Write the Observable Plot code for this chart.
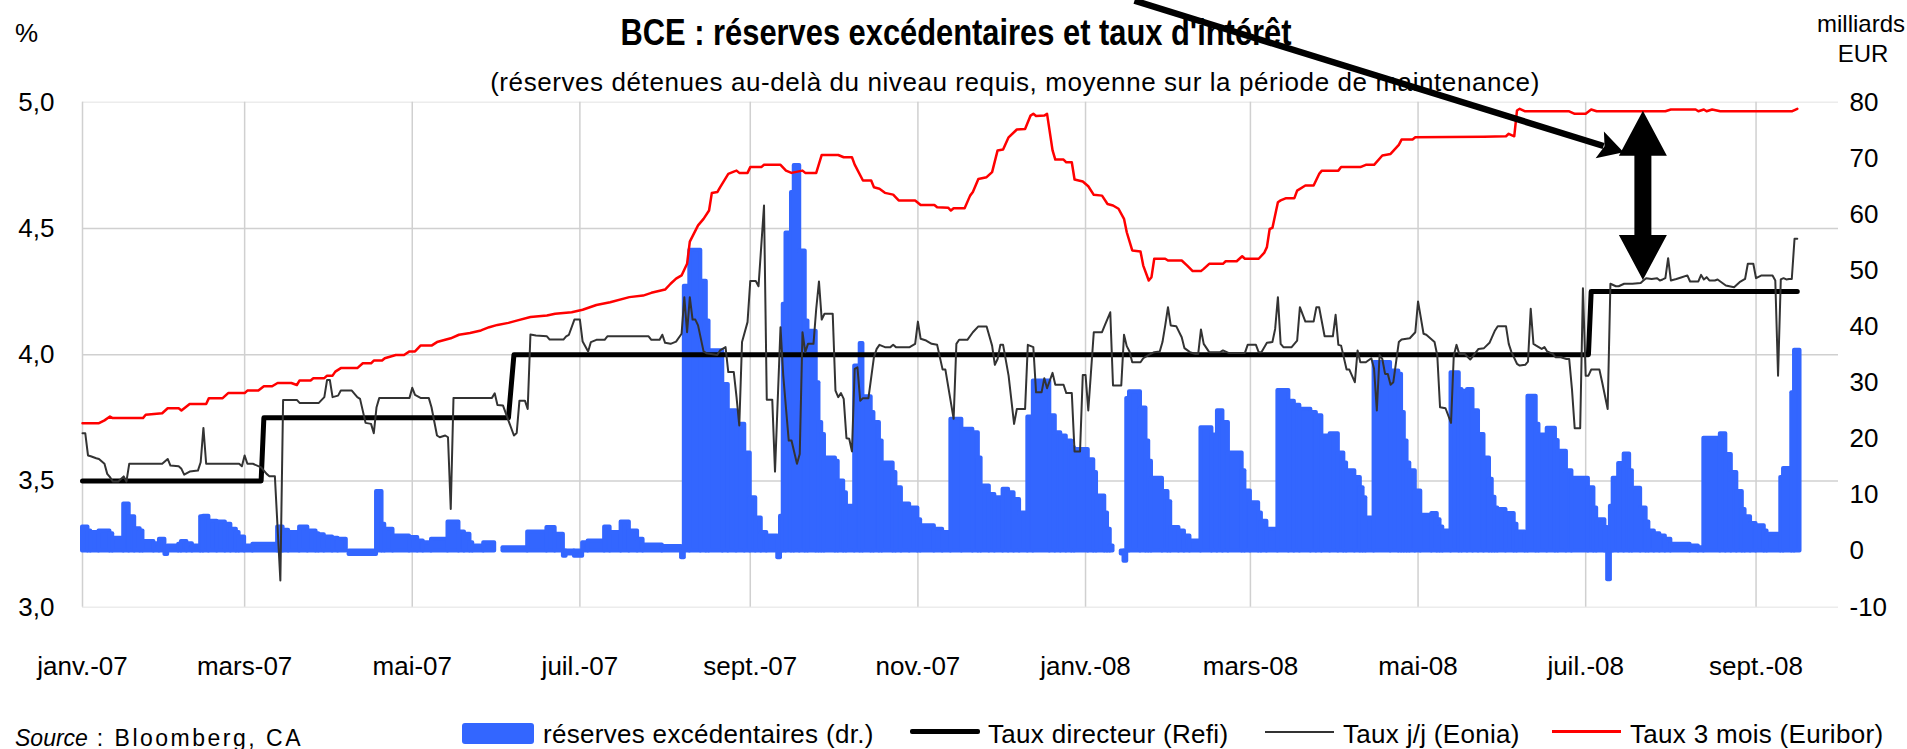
<!DOCTYPE html>
<html><head><meta charset="utf-8">
<script src="https://cdn.jsdelivr.net/npm/d3@7"></script>
<script src="https://cdn.jsdelivr.net/npm/@observablehq/plot@0.6"></script>
<style>
html,body{margin:0;padding:0;background:#fff;}
#wrap{position:relative;width:1907px;height:749px;overflow:hidden;font-family:"Liberation Sans",Arial,sans-serif;color:#000;background:#fff;}
#chart{position:absolute;left:0;top:0;}
.lbl{position:absolute;white-space:nowrap;line-height:1;}
.c{transform:translateX(-50%);}
.lg{font-size:26px;letter-spacing:0.3px;}
</style></head><body>
<div id="wrap">
  <div id="chart"></div>
  <div class="lbl" style="left:956px;top:14.5px;font-size:36px;font-weight:bold;transform:translateX(-50%) scaleX(0.857);">BCE : réserves excédentaires et taux d'intérêt</div>
  <div class="lbl c" style="left:1015px;top:69px;font-size:26px;letter-spacing:0.58px;">(réserves détenues au-delà du niveau requis, moyenne sur la période de maintenance)</div>
  <div class="lbl" style="left:15px;top:20px;font-size:26px;">%</div>
  <div class="lbl c" style="left:1861px;top:11.7px;font-size:24px;">milliards</div>
  <div class="lbl c" style="left:1863px;top:41.7px;font-size:24px;">EUR</div>
  <div class="lbl" style="left:15px;top:726.5px;font-size:23px;"><i>Source</i><span style="letter-spacing:2.5px;"> : Bloomberg, CA</span></div>
  <div class="lbl" style="left:462px;top:723px;width:72px;height:21px;background:#3366ff;border-radius:3px;"></div>
  <div class="lbl lg" style="left:543px;top:721px;">réserves excédentaires (dr.)</div>
  <div class="lbl" style="left:910px;top:729px;width:70px;height:5px;background:#000;border-radius:2px;"></div>
  <div class="lbl lg" style="left:988px;top:721px;">Taux directeur (Refi)</div>
  <div class="lbl" style="left:1265px;top:730.5px;width:69px;height:2px;background:#333;"></div>
  <div class="lbl lg" style="left:1343px;top:721px;">Taux j/j (Eonia)</div>
  <div class="lbl" style="left:1552px;top:730px;width:69px;height:3px;background:#f00;"></div>
  <div class="lbl lg" style="left:1630px;top:721px;">Taux 3 mois (Euribor)</div>
</div>
<script>
// ---- Data ----
const xTickDates = ["2007-01-01","2007-03-01","2007-05-01","2007-07-01","2007-09-01","2007-11-01","2008-01-01","2008-03-01","2008-05-01","2008-07-01","2008-09-01"];
const xTickLabels = ["janv.-07","mars-07","mai-07","juil.-07","sept.-07","nov.-07","janv.-08","mars-08","mai-08","juil.-08","sept.-08"];
const leftTicks = [3, 3.5, 4, 4.5, 5];
const rightTicks = [-10, 0, 10, 20, 30, 40, 50, 60, 70, 80];

// Taux directeur (Refi), %
const refi = [["2007-01-01",3.5],["2007-03-07",3.5],["2007-03-08",3.75],["2007-06-05",3.75],["2007-06-07",4.0],["2008-07-02",4.0],["2008-07-03",4.25],["2008-09-16",4.25]];

// Taux 3 mois (Euribor), %
const euribor = [["2007-01-01",3.729],["2007-01-07",3.729],["2007-01-09",3.740],["2007-01-11",3.755],["2007-01-12",3.749],["2007-01-23",3.749],["2007-01-24",3.762],["2007-01-30",3.768],["2007-02-01",3.788],["2007-02-05",3.788],["2007-02-06",3.779],["2007-02-09",3.805],["2007-02-15",3.805],["2007-02-16",3.828],["2007-02-21",3.828],["2007-02-23",3.848],["2007-03-01",3.848],["2007-03-02",3.858],["2007-03-06",3.858],["2007-03-08",3.875],["2007-03-11",3.875],["2007-03-13",3.888],["2007-03-18",3.888],["2007-03-20",3.880],["2007-03-21",3.898],["2007-03-25",3.898],["2007-03-26",3.907],["2007-03-30",3.907],["2007-03-31",3.917],["2007-04-02",3.917],["2007-04-03",3.933],["2007-04-05",3.947],["2007-04-11",3.947],["2007-04-13",3.966],["2007-04-16",3.966],["2007-04-17",3.977],["2007-04-20",3.977],["2007-04-21",3.986],["2007-04-25",3.999],["2007-04-28",3.999],["2007-04-30",4.013],["2007-05-02",4.013],["2007-05-04",4.036],["2007-05-08",4.036],["2007-05-10",4.050],["2007-05-15",4.065],["2007-05-18",4.079],["2007-05-22",4.086],["2007-05-26",4.096],["2007-05-29",4.109],["2007-06-01",4.118],["2007-06-05",4.126],["2007-06-08",4.135],["2007-06-13",4.149],["2007-06-19",4.155],["2007-06-22",4.162],["2007-06-28",4.168],["2007-07-02",4.178],["2007-07-07",4.197],["2007-07-12",4.208],["2007-07-19",4.228],["2007-07-24",4.234],["2007-07-27",4.245],["2007-08-01",4.258],["2007-08-03",4.281],["2007-08-05",4.301],["2007-08-07",4.314],["2007-08-09",4.360],["2007-08-10",4.448],["2007-08-13",4.512],["2007-08-15",4.538],["2007-08-17",4.571],["2007-08-18",4.640],["2007-08-20",4.644],["2007-08-21",4.663],["2007-08-24",4.716],["2007-08-26",4.725],["2007-08-27",4.729],["2007-08-28",4.720],["2007-08-31",4.720],["2007-09-01",4.743],["2007-09-05",4.743],["2007-09-06",4.752],["2007-09-12",4.752],["2007-09-14",4.729],["2007-09-16",4.720],["2007-09-20",4.729],["2007-09-21",4.720],["2007-09-25",4.720],["2007-09-27",4.791],["2007-10-03",4.791],["2007-10-05",4.782],["2007-10-08",4.782],["2007-10-09",4.753],["2007-10-12",4.690],["2007-10-15",4.690],["2007-10-16",4.663],["2007-10-18",4.657],["2007-10-20",4.641],["2007-10-23",4.634],["2007-10-25",4.611],["2007-10-31",4.611],["2007-11-02",4.593],["2007-11-07",4.593],["2007-11-08",4.584],["2007-11-12",4.582],["2007-11-13",4.571],["2007-11-14",4.580],["2007-11-18",4.580],["2007-11-20",4.630],["2007-11-21",4.644],["2007-11-23",4.696],["2007-11-26",4.703],["2007-11-28",4.723],["2007-11-30",4.809],["2007-12-02",4.813],["2007-12-04",4.861],["2007-12-07",4.892],["2007-12-10",4.894],["2007-12-12",4.947],["2007-12-13",4.954],["2007-12-14",4.945],["2007-12-17",4.947],["2007-12-18",4.954],["2007-12-20",4.809],["2007-12-21",4.773],["2007-12-24",4.773],["2007-12-25",4.762],["2007-12-27",4.762],["2007-12-28",4.694],["2007-12-31",4.686],["2008-01-02",4.667],["2008-01-04",4.633],["2008-01-07",4.630],["2008-01-09",4.597],["2008-01-11",4.591],["2008-01-13",4.578],["2008-01-15",4.538],["2008-01-16",4.485],["2008-01-18",4.413],["2008-01-21",4.409],["2008-01-22",4.353],["2008-01-24",4.294],["2008-01-25",4.307],["2008-01-26",4.380],["2008-01-30",4.380],["2008-01-31",4.373],["2008-02-05",4.373],["2008-02-07",4.353],["2008-02-09",4.331],["2008-02-12",4.331],["2008-02-13",4.340],["2008-02-15",4.360],["2008-02-20",4.360],["2008-02-21",4.370],["2008-02-25",4.370],["2008-02-26",4.380],["2008-02-27",4.390],["2008-02-28",4.380],["2008-03-04",4.380],["2008-03-06",4.403],["2008-03-07",4.426],["2008-03-08",4.498],["2008-03-09",4.502],["2008-03-11",4.604],["2008-03-12",4.611],["2008-03-14",4.620],["2008-03-17",4.620],["2008-03-18",4.650],["2008-03-21",4.670],["2008-03-24",4.670],["2008-03-26",4.716],["2008-03-27",4.729],["2008-04-02",4.729],["2008-04-03",4.743],["2008-04-10",4.743],["2008-04-12",4.752],["2008-04-15",4.752],["2008-04-18",4.789],["2008-04-21",4.795],["2008-04-24",4.831],["2008-04-25",4.852],["2008-04-29",4.852],["2008-04-30",4.861],["2008-05-25",4.863],["2008-06-02",4.865],["2008-06-03",4.875],["2008-06-05",4.865],["2008-06-06",4.967],["2008-06-07",4.974],["2008-06-09",4.964],["2008-06-25",4.964],["2008-06-27",4.954],["2008-07-01",4.954],["2008-07-03",4.971],["2008-07-05",4.964],["2008-07-30",4.964],["2008-08-01",4.971],["2008-08-10",4.971],["2008-08-11",4.964],["2008-08-13",4.971],["2008-08-14",4.964],["2008-08-16",4.971],["2008-08-19",4.964],["2008-09-14",4.964],["2008-09-16",4.974]];

// Taux j/j (Eonia), %
const eonia = [["2007-01-01",3.689],["2007-01-02",3.689],["2007-01-03",3.601],["2007-01-04",3.598],["2007-01-06",3.590],["2007-01-07",3.587],["2007-01-09",3.568],["2007-01-10",3.528],["2007-01-11",3.515],["2007-01-12",3.498],["2007-01-14",3.498],["2007-01-16",3.518],["2007-01-17",3.498],["2007-01-18",3.568],["2007-01-30",3.568],["2007-02-01",3.587],["2007-02-02",3.561],["2007-02-05",3.558],["2007-02-06",3.548],["2007-02-07",3.525],["2007-02-09",3.537],["2007-02-12",3.541],["2007-02-13",3.574],["2007-02-14",3.710],["2007-02-15",3.568],["2007-02-27",3.568],["2007-02-28",3.558],["2007-03-01",3.601],["2007-03-02",3.568],["2007-03-04",3.568],["2007-03-07",3.554],["2007-03-09",3.528],["2007-03-10",3.519],["2007-03-12",3.519],["2007-03-14",3.106],["2007-03-15",3.821],["2007-03-20",3.821],["2007-03-21",3.809],["2007-03-28",3.809],["2007-03-30",3.832],["2007-03-31",3.900],["2007-04-01",3.900],["2007-04-02",3.832],["2007-04-04",3.838],["2007-04-05",3.858],["2007-04-09",3.858],["2007-04-11",3.832],["2007-04-12",3.825],["2007-04-14",3.730],["2007-04-16",3.726],["2007-04-17",3.689],["2007-04-18",3.792],["2007-04-19",3.829],["2007-04-30",3.829],["2007-05-01",3.869],["2007-05-02",3.841],["2007-05-04",3.829],["2007-05-07",3.829],["2007-05-08",3.792],["2007-05-10",3.680],["2007-05-11",3.673],["2007-05-13",3.680],["2007-05-14",3.673],["2007-05-15",3.389],["2007-05-16",3.829],["2007-05-30",3.829],["2007-05-31",3.847],["2007-06-01",3.801],["2007-06-03",3.799],["2007-06-05",3.739],["2007-06-07",3.680],["2007-06-08",3.690],["2007-06-09",3.818],["2007-06-11",3.818],["2007-06-12",3.785],["2007-06-13",4.080],["2007-06-15",4.076],["2007-06-19",4.073],["2007-06-20",4.060],["2007-06-25",4.060],["2007-06-26",4.073],["2007-06-27",4.079],["2007-06-29",4.139],["2007-07-01",4.139],["2007-07-02",4.052],["2007-07-04",4.013],["2007-07-05",4.050],["2007-07-07",4.059],["2007-07-10",4.059],["2007-07-11",4.073],["2007-07-26",4.073],["2007-07-27",4.059],["2007-07-30",4.059],["2007-07-31",4.079],["2007-08-01",4.047],["2007-08-03",4.043],["2007-08-05",4.052],["2007-08-07",4.083],["2007-08-08",4.228],["2007-08-09",4.089],["2007-08-10",4.228],["2007-08-11",4.139],["2007-08-12",4.139],["2007-08-13",4.116],["2007-08-15",4.013],["2007-08-16",4.006],["2007-08-20",3.999],["2007-08-21",4.017],["2007-08-23",4.030],["2007-08-24",3.931],["2007-08-26",3.931],["2007-08-27",3.832],["2007-08-28",3.720],["2007-08-29",4.050],["2007-08-31",4.129],["2007-09-01",4.292],["2007-09-03",4.292],["2007-09-04",4.271],["2007-09-06",4.591],["2007-09-07",3.822],["2007-09-09",3.822],["2007-09-10",3.537],["2007-09-12",4.109],["2007-09-13",3.917],["2007-09-15",3.660],["2007-09-16",3.660],["2007-09-18",3.568],["2007-09-19",3.607],["2007-09-20",4.089],["2007-09-21",4.010],["2007-09-22",4.043],["2007-09-24",4.043],["2007-09-25",4.182],["2007-09-26",4.290],["2007-09-27",4.139],["2007-09-28",4.162],["2007-10-01",4.162],["2007-10-02",3.858],["2007-10-03",3.832],["2007-10-04",3.848],["2007-10-05",3.825],["2007-10-06",3.669],["2007-10-07",3.667],["2007-10-08",3.617],["2007-10-09",3.944],["2007-10-10",3.950],["2007-10-11",3.818],["2007-10-12",3.828],["2007-10-14",3.828],["2007-10-16",3.990],["2007-10-17",4.023],["2007-10-18",4.039],["2007-10-20",4.030],["2007-10-22",4.030],["2007-10-23",4.039],["2007-10-24",4.030],["2007-10-29",4.030],["2007-10-31",4.043],["2007-11-01",4.131],["2007-11-02",4.063],["2007-11-04",4.056],["2007-11-06",4.043],["2007-11-08",4.039],["2007-11-10",3.941],["2007-11-11",3.941],["2007-11-14",3.746],["2007-11-15",4.043],["2007-11-16",4.059],["2007-11-19",4.059],["2007-11-21",4.089],["2007-11-23",4.112],["2007-11-26",4.112],["2007-11-28",4.036],["2007-11-29",3.960],["2007-11-30",3.983],["2007-12-01",4.039],["2007-12-02",4.039],["2007-12-04",3.917],["2007-12-06",3.726],["2007-12-07",3.785],["2007-12-10",3.785],["2007-12-11",4.039],["2007-12-13",4.030],["2007-12-14",3.851],["2007-12-16",3.851],["2007-12-17",3.907],["2007-12-18",3.867],["2007-12-20",3.928],["2007-12-21",3.881],["2007-12-24",3.881],["2007-12-25",3.848],["2007-12-27",3.848],["2007-12-28",3.617],["2007-12-30",3.617],["2007-12-31",3.920],["2008-01-01",3.920],["2008-01-02",3.779],["2008-01-04",4.089],["2008-01-07",4.089],["2008-01-08",4.116],["2008-01-10",4.168],["2008-01-11",3.878],["2008-01-14",3.878],["2008-01-15",4.079],["2008-01-16",4.034],["2008-01-17",4.013],["2008-01-18",3.970],["2008-01-21",3.970],["2008-01-22",3.986],["2008-01-24",3.999],["2008-01-26",4.010],["2008-01-28",4.013],["2008-01-29",4.050],["2008-01-30",4.116],["2008-01-31",4.188],["2008-02-01",4.116],["2008-02-03",4.113],["2008-02-05",4.069],["2008-02-06",4.026],["2008-02-08",4.010],["2008-02-10",4.003],["2008-02-11",4.003],["2008-02-12",4.100],["2008-02-13",4.043],["2008-02-15",4.010],["2008-02-19",4.010],["2008-02-20",4.017],["2008-02-22",4.007],["2008-02-28",4.007],["2008-02-29",4.039],["2008-03-03",4.039],["2008-03-04",4.010],["2008-03-05",4.010],["2008-03-07",4.047],["2008-03-09",4.050],["2008-03-10",4.102],["2008-03-11",4.228],["2008-03-12",4.043],["2008-03-13",4.030],["2008-03-16",4.030],["2008-03-18",4.056],["2008-03-19",4.188],["2008-03-21",4.131],["2008-03-24",4.131],["2008-03-25",4.188],["2008-03-26",4.188],["2008-03-28",4.073],["2008-03-31",4.073],["2008-04-01",4.158],["2008-04-02",4.039],["2008-04-03",4.036],["2008-04-05",3.941],["2008-04-06",3.941],["2008-04-08",3.891],["2008-04-09",4.017],["2008-04-10",3.970],["2008-04-12",3.970],["2008-04-14",3.986],["2008-04-15",3.944],["2008-04-16",3.779],["2008-04-17",3.999],["2008-04-18",3.983],["2008-04-19",3.924],["2008-04-20",3.924],["2008-04-21",3.881],["2008-04-22",3.891],["2008-04-24",4.050],["2008-04-25",4.060],["2008-04-28",4.065],["2008-04-30",4.089],["2008-05-01",4.211],["2008-05-03",4.083],["2008-05-04",4.079],["2008-05-07",4.050],["2008-05-08",3.997],["2008-05-09",3.792],["2008-05-11",3.788],["2008-05-13",3.730],["2008-05-14",3.997],["2008-05-15",4.039],["2008-05-16",4.003],["2008-05-18",4.003],["2008-05-20",3.981],["2008-05-21",3.994],["2008-05-23",4.023],["2008-05-25",4.026],["2008-05-27",4.047],["2008-05-29",4.096],["2008-05-30",4.113],["2008-06-02",4.113],["2008-06-03",4.043],["2008-06-04",4.010],["2008-06-06",3.964],["2008-06-07",3.957],["2008-06-09",3.960],["2008-06-10",3.973],["2008-06-11",4.182],["2008-06-12",4.043],["2008-06-13",4.036],["2008-06-15",4.023],["2008-06-16",4.030],["2008-06-17",4.013],["2008-06-19",4.003],["2008-06-20",3.990],["2008-06-22",3.990],["2008-06-24",3.983],["2008-06-25",3.983],["2008-06-26",3.865],["2008-06-27",3.709],["2008-06-29",3.709],["2008-06-30",4.263],["2008-07-01",3.917],["2008-07-02",3.917],["2008-07-03",3.941],["2008-07-06",3.941],["2008-07-07",3.891],["2008-07-09",3.785],["2008-07-10",4.281],["2008-07-12",4.271],["2008-07-13",4.271],["2008-07-15",4.281],["2008-07-18",4.281],["2008-07-21",4.284],["2008-07-22",4.294],["2008-07-23",4.303],["2008-07-25",4.300],["2008-07-27",4.303],["2008-07-28",4.294],["2008-07-29",4.298],["2008-07-30",4.303],["2008-07-31",4.382],["2008-08-01",4.294],["2008-08-03",4.300],["2008-08-05",4.307],["2008-08-07",4.314],["2008-08-08",4.290],["2008-08-11",4.290],["2008-08-12",4.316],["2008-08-13",4.298],["2008-08-14",4.307],["2008-08-15",4.294],["2008-08-17",4.294],["2008-08-18",4.298],["2008-08-21",4.274],["2008-08-24",4.267],["2008-08-26",4.287],["2008-08-28",4.300],["2008-08-29",4.360],["2008-08-31",4.360],["2008-09-01",4.303],["2008-09-03",4.314],["2008-09-07",4.314],["2008-09-08",4.294],["2008-09-09",3.917],["2008-09-10",4.298],["2008-09-11",4.303],["2008-09-12",4.298],["2008-09-13",4.300],["2008-09-14",4.300],["2008-09-15",4.459],["2008-09-16",4.459]];

// Réserves excédentaires (dr.), milliards EUR — each value holds until the next date (null = no data)
const reserves = [["2007-01-01",4.3],["2007-01-03",3.6],["2007-01-04",3.3],["2007-01-07",3.6],["2007-01-11",3.1],["2007-01-12",2.3],["2007-01-16",8.4],["2007-01-18",6.1],["2007-01-20",4.0],["2007-01-22",3.6],["2007-01-23",1.7],["2007-01-27",1.3],["2007-01-29",2.1],["2007-01-31",-0.6],["2007-02-01",0.9],["2007-02-05",1.2],["2007-02-06",1.7],["2007-02-08",1.3],["2007-02-10",0.9],["2007-02-13",6.1],["2007-02-14",6.2],["2007-02-16",5.3],["2007-02-19",5.2],["2007-02-22",4.8],["2007-02-24",3.9],["2007-02-26",3.3],["2007-02-27",2.5],["2007-03-01",0.9],["2007-03-04",1.2],["2007-03-13",4.3],["2007-03-15",3.7],["2007-03-17",3.3],["2007-03-21",4.3],["2007-03-24",3.6],["2007-03-27",3.1],["2007-03-28",2.9],["2007-03-30",2.5],["2007-04-02",2.3],["2007-04-04",2.1],["2007-04-07",null],["2007-04-08",-0.6],["2007-04-18",10.6],["2007-04-20",4.8],["2007-04-21",3.9],["2007-04-24",2.7],["2007-04-30",2.4],["2007-05-03",1.8],["2007-05-05",1.5],["2007-05-08",2.1],["2007-05-14",5.2],["2007-05-18",3.4],["2007-05-20",3.0],["2007-05-22",1.5],["2007-05-23",0.9],["2007-05-27",1.5],["2007-05-31",null],["2007-06-03",0.6],["2007-06-12",3.4],["2007-06-19",4.2],["2007-06-22",3.0],["2007-06-25",-0.9],["2007-06-26",-0.5],["2007-06-29",-0.9],["2007-07-02",1.5],["2007-07-04",1.8],["2007-07-10",4.3],["2007-07-12",3.3],["2007-07-16",5.2],["2007-07-19",3.6],["2007-07-22",2.1],["2007-07-24",1.1],["2007-07-31",0.8],["2007-08-07",-1.2],["2007-08-08",47.2],["2007-08-10",53.6],["2007-08-14",48.1],["2007-08-16",41.0],["2007-08-17",35.7],["2007-08-22",29.7],["2007-08-24",25.0],["2007-08-27",22.6],["2007-08-30",17.5],["2007-09-01",9.5],["2007-09-03",5.9],["2007-09-05",3.3],["2007-09-07",2.7],["2007-09-11",-1.2],["2007-09-12",6.2],["2007-09-13",44.0],["2007-09-14",56.7],["2007-09-16",63.9],["2007-09-17",68.7],["2007-09-19",53.5],["2007-09-21",41.0],["2007-09-22",39.2],["2007-09-25",30.0],["2007-09-26",22.9],["2007-09-27",20.8],["2007-09-28",16.6],["2007-10-02",16.0],["2007-10-03",12.5],["2007-10-05",10.4],["2007-10-06",8.0],["2007-10-09",33.0],["2007-10-11",37.0],["2007-10-12",27.5],["2007-10-15",24.7],["2007-10-16",22.9],["2007-10-18",19.6],["2007-10-19",15.7],["2007-10-23",14.0],["2007-10-24",11.3],["2007-10-26",8.4],["2007-10-29",7.7],["2007-11-01",5.6],["2007-11-02",4.5],["2007-11-07",3.9],["2007-11-10",3.3],["2007-11-13",23.5],["2007-11-17",21.7],["2007-11-21",21.1],["2007-11-23",16.6],["2007-11-24",11.6],["2007-11-27",10.1],["2007-11-29",9.5],["2007-12-02",11.0],["2007-12-04",10.4],["2007-12-06",9.2],["2007-12-08",6.8],["2007-12-11",23.9],["2007-12-13",30.3],["2007-12-19",24.1],["2007-12-21",21.1],["2007-12-23",20.5],["2007-12-25",19.6],["2007-12-27",18.4],["2007-12-28",18.1],["2008-01-02",16.3],["2008-01-04",14.0],["2008-01-05",9.8],["2008-01-08",6.8],["2008-01-09",3.9],["2008-01-10",0.9],["2008-01-11",null],["2008-01-14",-0.5],["2008-01-15",-1.8],["2008-01-16",27.2],["2008-01-17",28.4],["2008-01-21",25.5],["2008-01-23",19.6],["2008-01-24",16.0],["2008-01-25",13.0],["2008-01-29",10.6],["2008-01-31",8.8],["2008-02-01",4.2],["2008-02-04",3.6],["2008-02-06",2.7],["2008-02-08",1.8],["2008-02-12",22.0],["2008-02-16",20.7],["2008-02-18",25.0],["2008-02-20",22.9],["2008-02-22",17.5],["2008-02-27",14.3],["2008-02-28",10.7],["2008-03-01",8.6],["2008-03-04",6.8],["2008-03-05",5.3],["2008-03-07",3.9],["2008-03-11",28.6],["2008-03-15",26.7],["2008-03-17",26.0],["2008-03-19",25.3],["2008-03-23",24.7],["2008-03-25",24.1],["2008-03-27",20.5],["2008-03-30",20.9],["2008-04-02",17.5],["2008-04-04",15.7],["2008-04-05",14.3],["2008-04-08",13.1],["2008-04-10",11.3],["2008-04-11",9.5],["2008-04-12",5.9],["2008-04-15",33.6],["2008-04-21",32.1],["2008-04-24",31.5],["2008-04-25",24.7],["2008-04-26",19.6],["2008-04-27",15.7],["2008-04-28",14.3],["2008-04-30",10.7],["2008-05-02",6.4],["2008-05-06",6.7],["2008-05-08",5.6],["2008-05-09",4.3],["2008-05-10",3.6],["2008-05-13",31.8],["2008-05-16",28.8],["2008-05-17",28.5],["2008-05-19",28.8],["2008-05-21",25.0],["2008-05-23",20.8],["2008-05-25",16.6],["2008-05-27",12.8],["2008-05-28",9.6],["2008-05-29",7.7],["2008-05-30",7.4],["2008-06-02",6.7],["2008-06-05",4.8],["2008-06-06",3.4],["2008-06-09",3.0],["2008-06-10",27.6],["2008-06-13",22.6],["2008-06-14",20.7],["2008-06-17",21.9],["2008-06-20",19.7],["2008-06-21",17.8],["2008-06-24",14.3],["2008-06-26",13.0],["2008-07-02",11.3],["2008-07-04",7.7],["2008-07-05",5.6],["2008-07-08",4.2],["2008-07-09",-5.1],["2008-07-10",8.0],["2008-07-11",13.0],["2008-07-13",15.6],["2008-07-15",17.3],["2008-07-17",14.3],["2008-07-18",11.2],["2008-07-21",7.7],["2008-07-23",5.2],["2008-07-24",3.6],["2008-07-26",3.1],["2008-07-28",2.7],["2008-07-30",2.1],["2008-08-01",1.2],["2008-08-08",0.9],["2008-08-11",0.6],["2008-08-13",20.1],["2008-08-19",20.9],["2008-08-21",17.2],["2008-08-23",14.0],["2008-08-25",10.6],["2008-08-27",7.4],["2008-08-28",6.1],["2008-08-30",4.9],["2008-09-01",4.5],["2008-09-04",3.6],["2008-09-05",3.0],["2008-09-10",13.1],["2008-09-11",14.7],["2008-09-14",28.2],["2008-09-15",35.8],["2008-09-17",null]];

// Annotations: spread Euribor–Eonia and the pointer arrow
const spreadDate = "2008-07-22";
const pointerFrom = ["2008-01-19", 5.40];
const pointerTo = ["2008-07-15", 4.80];

// ---- Scales helpers ----
const leftDomain = [3, 5];
const rightDomain = [-10, 80];
const toLeft = v => leftDomain[0] + (v - rightDomain[0]) * (leftDomain[1] - leftDomain[0]) / (rightDomain[1] - rightDomain[0]);
const fromLeft = y => rightDomain[0] + (y - leftDomain[0]) * (rightDomain[1] - rightDomain[0]) / (leftDomain[1] - leftDomain[0]);

const parse = s => new Date(s + "T00:00:00Z");
const series = arr => arr.map(([d, v]) => ({date: parse(d), value: v}));
const refiData = series(refi), euriborData = series(euribor), eoniaData = series(eonia);
const reserveBars = reserves.slice(0, -1)
  .map(([d, v], i) => ({start: parse(d), end: parse(reserves[i + 1][0]), value: v}))
  .filter(d => d.value != null);
const labelByTime = new Map(xTickDates.map((d, i) => [+parse(d), xTickLabels[i]]));
// value in force at a date (last observation on or before it)
const valueAt = (data, date) => {
  const t = +parse(date);
  let v = data[0].value;
  for (const d of data) { if (+d.date <= t) v = d.value; else break; }
  return v;
};

const BLUE = "#3366ff";
const GRID = "#d0d0d0";

function arrows(index, scales) {
  const x = scales.x, y = scales.y;
  const g = d3.create("svg:g");
  const xa = x(parse(spreadDate));
  const yT = y(valueAt(euriborData, spreadDate));
  const yB = y(valueAt(eoniaData, spreadDate));
  const hl = 45, hw = 24, sw = 8.5;
  g.append("path")
    .attr("d", `M${xa},${yT}L${xa + hw},${yT + hl}L${xa + sw},${yT + hl}L${xa + sw},${yB - hl}L${xa + hw},${yB - hl}L${xa},${yB}L${xa - hw},${yB - hl}L${xa - sw},${yB - hl}L${xa - sw},${yT + hl}L${xa - hw},${yT + hl}Z`)
    .attr("fill", "#000");
  const x1 = x(parse(pointerFrom[0])), y1 = y(pointerFrom[1]);
  const x2 = x(parse(pointerTo[0])), y2 = y(pointerTo[1]);
  const len = Math.hypot(x2 - x1, y2 - y1);
  const ux = (x2 - x1) / len, uy = (y2 - y1) / len;
  const L = 25, W = 14;
  const bx = x2 - ux * L, by = y2 - uy * L;
  g.append("line").attr("x1", x1).attr("y1", y1).attr("x2", bx + ux * 4).attr("y2", by + uy * 4)
    .attr("stroke", "#000").attr("stroke-width", 6.5);
  g.append("path")
    .attr("d", `M${x2},${y2}L${bx - uy * W},${by + ux * W}L${bx + ux * 5},${by + uy * 5}L${bx + uy * W},${by - ux * W}Z`)
    .attr("fill", "#000");
  return g.node();
}

const plot = Plot.plot({
  width: 1907,
  height: 749,
  marginLeft: 82,
  marginRight: 69,
  marginTop: 101.7,
  marginBottom: 142.3,
  style: {fontFamily: "'Liberation Sans', Arial, sans-serif", fontSize: "26px", color: "#000", background: "transparent", overflow: "visible"},
  x: {type: "utc", domain: [parse("2007-01-01"), parse("2008-10-01")]},
  y: {domain: leftDomain},
  marks: [
    Plot.gridY([3, 5], {stroke: "#ececec", strokeOpacity: 1, strokeWidth: 1.5}),
    Plot.gridY([3.5, 4, 4.5], {stroke: GRID, strokeOpacity: 1, strokeWidth: 1.5}),
    Plot.gridX(xTickDates.map(parse), {stroke: GRID, strokeOpacity: 1, strokeWidth: 1.5}),
    Plot.rect(reserveBars, {x1: "start", x2: "end", y1: () => toLeft(0), y2: d => toLeft(d.value), fill: BLUE, stroke: BLUE, strokeWidth: 4, strokeLinejoin: "round"}),
    Plot.line(refiData, {x: "date", y: "value", stroke: "#000", strokeWidth: 5, strokeLinejoin: "round"}),
    Plot.line(eoniaData, {x: "date", y: "value", stroke: "#333", strokeWidth: 2, strokeLinejoin: "round"}),
    Plot.line(euriborData, {x: "date", y: "value", stroke: "#ff0000", strokeWidth: 2.5, strokeLinejoin: "round"}),
    Plot.axisY(leftTicks, {anchor: "left", tickSize: 0, tickPadding: 28, tickFormat: d => d.toFixed(1).replace(".", ","), label: null}),
    Plot.axisY(rightTicks.map(toLeft), {anchor: "right", tickSize: 0, tickPadding: 11, tickFormat: d => String(Math.round(fromLeft(d))), label: null}),
    Plot.axisX(xTickDates.map(parse), {anchor: "bottom", tickSize: 0, tickPadding: 49, tickFormat: d => labelByTime.get(+d), label: null}),
    arrows
  ]
});
document.getElementById("chart").appendChild(plot);
</script>
</body></html>
